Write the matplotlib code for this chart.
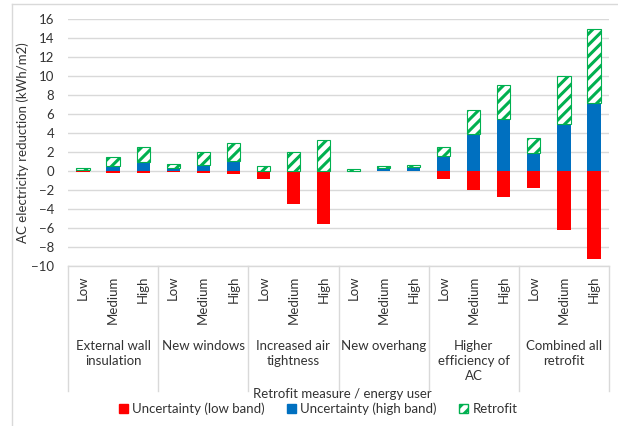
import numpy as np
import matplotlib
matplotlib.use("Agg")
import matplotlib.pyplot as plt
from matplotlib.patches import Patch
from matplotlib.lines import Line2D
import matplotlib.transforms as mtransforms

plt.rcParams['font.family'] = ['Lato', 'DejaVu Sans']
plt.rcParams['hatch.linewidth'] = 2.2

# retrofit measures and user levels
groups = ["External wall\ninsulation", "New windows", "Increased air\ntightness",
          "New overhang", "Higher\nefficiency of\nAC", "Combined all\nretrofit"]
levels = ["Low", "Medium", "High"]

# AC electricity reduction (kWh/m2), Low/Medium/High per measure
low_band = [-0.1, -0.2, -0.2, -0.1, -0.2, -0.3, -0.9, -3.5, -5.6,
            0.0, 0.0, 0.0, -0.85, -2.05, -2.8, -1.85, -6.2, -9.3]
high_band = [0.05, 0.5, 0.9, 0.25, 0.65, 1.0, 0.0, 0.0, 0.0,
             0.0, 0.3, 0.4, 1.5, 3.85, 5.45, 1.85, 4.95, 7.15]
retrofit = [0.25, 0.9, 1.6, 0.45, 1.35, 1.9, 0.5, 2.0, 3.2,
            0.2, 0.2, 0.2, 1.0, 2.5, 3.55, 1.55, 5.05, 7.75]

RED = '#FF0000'
BLUE = '#0070C0'
GREEN = '#00B050'
GRID = '#D9D9D9'
TXT = '#333333'
FS = 9.5

W, H = 618, 426
fig = plt.figure(figsize=(W / 100, H / 100), dpi=100)
ax = fig.add_axes([68 / W, 1 - 265.7 / H, (609 - 68) / W, (265.7 - 18.7) / H])

x = np.arange(len(low_band))
bw = 0.44
ax.bar(x, low_band, width=bw, color=RED, zorder=3)
ax.bar(x, high_band, width=bw, color=BLUE, zorder=3)
ax.bar(x, retrofit, width=bw, bottom=high_band, facecolor='white',
       edgecolor=GREEN, hatch='///', linewidth=0.8, zorder=3)

ax.set_xlim(-0.5, len(x) - 0.5)
ax.set_ylim(-10, 16)
ax.set_yticks(np.arange(-10, 17, 2))
ax.tick_params(axis='y', length=0, pad=10, labelsize=FS, labelcolor=TXT)
ax.yaxis.grid(True, color=GRID, linewidth=1.0, zorder=0)
for s in ['left', 'right', 'top']:
    ax.spines[s].set_visible(False)
ax.spines['bottom'].set_color(GRID)
ax.spines['bottom'].set_linewidth(1.0)

ax.set_xticks(x)
ax.set_xticklabels(levels * len(groups), rotation=90, va='top', ha='center')
ax.tick_params(axis='x', length=0, pad=7, labelsize=FS, labelcolor=TXT)

# category separators below the axis
trans = mtransforms.blended_transform_factory(ax.transData, ax.transAxes)
sep_bottom = -(391 - 265.7) / (265.7 - 18.7)
for b in np.arange(-0.5, len(x), 3):
    ax.add_line(Line2D([b, b], [0, sep_bottom], transform=trans, color=GRID,
                       linewidth=1.0, clip_on=False))

label_top = -(340 - 265.7) / (265.7 - 18.7)
for i, g in enumerate(groups):
    ax.text(3 * i + 1, label_top, g, transform=trans, ha='center', va='top',
            fontsize=FS, color=TXT, linespacing=1.3, multialignment='center')

ax.set_ylabel('AC electricity reduction (kWh/m2)', fontsize=FS, color=TXT)
ax.yaxis.set_label_coords((29 - 68) / (609 - 68), 0.5)

fig.text(342 / W, 1 - 394 / H, 'Retrofit measure / energy user', ha='center',
         va='center', fontsize=FS, color=TXT)

handles = [Patch(facecolor=RED, edgecolor=RED, label='Uncertainty (low band)'),
           Patch(facecolor=BLUE, edgecolor=BLUE, label='Uncertainty (high band)'),
           Patch(facecolor='white', edgecolor=GREEN, hatch='///', label='Retrofit')]
fig.legend(handles=handles, loc='center', bbox_to_anchor=(318 / W, 1 - 409 / H),
           ncol=3, frameon=False, fontsize=FS, handlelength=0.7, handleheight=0.7,
           handletextpad=0.3, columnspacing=1.7, labelcolor=TXT)

# outer chart frame
fig.add_artist(Line2D([12 / W, 1], [1 - 4 / H, 1 - 4 / H], transform=fig.transFigure,
                      color=GRID, linewidth=1.0))
fig.add_artist(Line2D([12 / W, 12 / W], [0, 1 - 4 / H], transform=fig.transFigure,
                      color=GRID, linewidth=1.0))

fig.savefig('out.png', dpi=100)
